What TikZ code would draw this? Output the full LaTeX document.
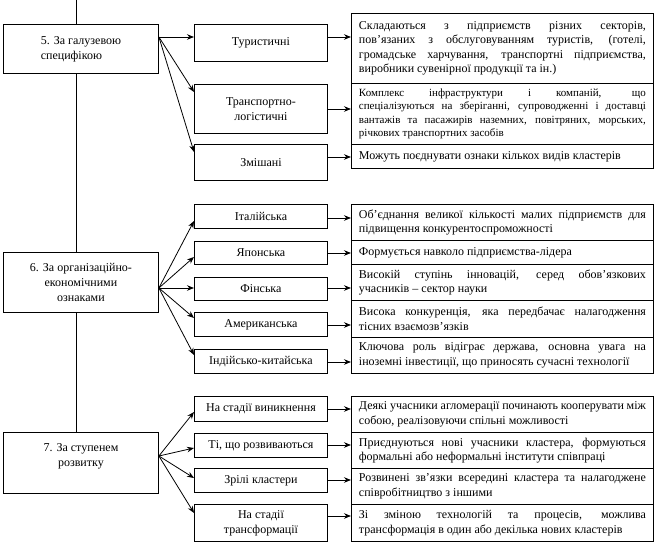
\documentclass[tikz,border=0pt]{standalone}
\usepackage{fontspec}
\setmainfont{Liberation Serif}
\usetikzlibrary{arrows.meta}
\begin{document}
\begin{tikzpicture}[x=1pt,y=-1pt,
  lbox/.style={draw, line width=0.9pt, inner sep=0pt, anchor=north west, minimum width=155pt, align=center, font=\fontsize{12}{15}\selectfont},
  mbox/.style={draw, line width=0.9pt, inner sep=0pt, anchor=north west, minimum width=133pt, align=center, font=\fontsize{12}{15}\selectfont},
  dbox/.style={draw, line width=0.9pt, inner xsep=7.5pt, inner ysep=0pt, anchor=north west, text width=287pt, align=justify, font=\fontsize{12}{14.5}\selectfont},
  arr/.style={line width=0.8pt, -{Stealth[length=7pt,width=5.5pt]}},
  spine/.style={line width=0.9pt}]
\useasboundingbox (0,0) rectangle (654,553);

% left boxes
\node[lbox, minimum height=49pt, align=left] (b5) at (3,24) {5. За галузевою\\специфікою};
\node[lbox, minimum height=60pt] (b6) at (3,252) {6. За організаційно-\\економічними\\ознаками};
\node[lbox, minimum height=61pt] (b7) at (3,432) {7. За ступенем\\розвитку\\~};

% spine
\coordinate (sp) at (76,0);
\draw[spine] (sp) -- (b5.north -| sp);
\draw[spine] (b5.south -| sp) -- (b6.north -| sp);
\draw[spine] (b6.south -| sp) -- (b7.north -| sp);

% middle boxes
\node[mbox, minimum height=37pt] (m1) at (194,24) {Туристичні};
\node[mbox, minimum height=49pt] (m2) at (194,84) {Транспортно-\\логістичні};
\node[mbox, minimum height=36pt] (m3) at (194,144) {Змішані};
\node[mbox, minimum height=24pt] (m4) at (194,204) {Італійська};
\node[mbox, minimum height=23pt] (m5) at (194,241) {Японська};
\node[mbox, minimum height=23pt] (m6) at (194,277) {Фінська};
\node[mbox, minimum height=24pt] (m7) at (194,312) {Американська};
\node[mbox, minimum height=24pt] (m8) at (194,349) {Індійсько-китайська};
\node[mbox, minimum height=25pt] (m9) at (194,396) {На стадії виникнення};
\node[mbox, minimum height=24pt] (m10) at (194,433) {Ті, що розвиваються};
\node[mbox, minimum height=24pt] (m11) at (194,468) {Зрілі кластери};
\node[mbox, minimum height=37pt] (m12) at (194,504) {На стадії\\трансформації};

% description boxes
\node[dbox, minimum height=70pt] (d1) at (351,13) {Складаються з підприємств різних секторів,\linebreak пов’язаних з обслуговуванням туристів, (готелі,\linebreak громадське харчування, транспортні підприємства,\linebreak виробники сувенірної продукції та ін.)};
\node[dbox, minimum height=61pt, font=\fontsize{11}{13.5}\selectfont] (d2) at (351,83) {Комплекс інфраструктури і компаній, що\linebreak спеціалізуються на зберіганні, супроводженні і доставці\linebreak вантажів та пасажирів наземних, повітряних, морських,\linebreak річкових транспортних засобів};
\node[dbox, minimum height=24pt] (d3) at (351,144) {Можуть поєднувати ознаки кількох видів кластерів};

\node[dbox, minimum height=36pt] (d4) at (351,204) {Об’єднання великої кількості малих підприємств для\linebreak підвищення конкурентоспроможності};
\node[dbox, minimum height=24pt] (d5) at (351,240) {Формується навколо підприємства-лідера};
\node[dbox, minimum height=36pt] (d6) at (351,264) {Високій ступінь інновацій, серед обов’язкових\linebreak учасників – сектор науки};
\node[dbox, minimum height=37pt] (d7) at (351,300) {Висока конкуренція, яка передбачає налагодження\linebreak тісних взаємозв’язків};
\node[dbox, minimum height=36pt] (d8) at (351,337) {Ключова роль відіграє держава, основна увага на\linebreak іноземні інвестиції, що приносять сучасні технології};

\node[dbox, minimum height=36pt] (d9) at (351,396) {Деякі учасники агломерації починають кооперувати між\linebreak собою, реалізовуючи спільні можливості};
\node[dbox, minimum height=36pt] (d10) at (351,432) {Приєднуються нові учасники кластера, формуються\linebreak формальні або неформальні інститути співпраці};
\node[dbox, minimum height=36pt] (d11) at (351,468) {Розвинені зв’язки всередині кластера та налагоджене\linebreak співробітництво з іншими};
\node[dbox, minimum height=37pt] (d12) at (351,504) {Зі зміною технологій та процесів, можлива\linebreak трансформація в один або декілька нових кластерів};

% arrows left -> middle
\draw[arr] (b5.east |- 0,37) -- (m1.west |- 0,37);
\draw[arr] (b5.east |- 0,37) -- (m2.west |- 0,92);
\draw[arr] (b5.east |- 0,37) -- (m3.west |- 0,152);

\draw[arr] (b6.east |- 0,288) -- (m4.west |- 0,221);
\draw[arr] (b6.east |- 0,288) -- (m5.west |- 0,257);
\draw[arr] (b6.east |- 0,288) -- (m6.west |- 0,288);
\draw[arr] (b6.east |- 0,288) -- (m7.west |- 0,318);
\draw[arr] (b6.east |- 0,288) -- (m8.west |- 0,355);

\draw[arr] (b7.east |- 0,456) -- (m9.west |- 0,412);
\draw[arr] (b7.east |- 0,456) -- (m10.west |- 0,448);
\draw[arr] (b7.east |- 0,456) -- (m11.west |- 0,478);
\draw[arr] (b7.east |- 0,456) -- (m12.west |- 0,513);

% arrows middle -> descriptions
\draw[arr] (m1.east |- 0,37) -- (d1.west |- 0,37);
\draw[arr] (m2.east |- 0,109) -- (d2.west |- 0,109);
\draw[arr] (m3.east |- 0,157) -- (d3.west |- 0,157);
\draw[arr] (m4.east |- 0,218) -- (d4.west |- 0,218);
\draw[arr] (m5.east |- 0,253) -- (d5.west |- 0,253);
\draw[arr] (m6.east |- 0,288) -- (d6.west |- 0,288);
\draw[arr] (m7.east |- 0,325) -- (d7.west |- 0,325);
\draw[arr] (m8.east |- 0,362) -- (d8.west |- 0,362);
\draw[arr] (m9.east |- 0,409) -- (d9.west |- 0,409);
\draw[arr] (m10.east |- 0,445) -- (d10.west |- 0,445);
\draw[arr] (m11.east |- 0,480) -- (d11.west |- 0,480);
\draw[arr] (m12.east |- 0,516) -- (d12.west |- 0,516);
\end{tikzpicture}
\end{document}
